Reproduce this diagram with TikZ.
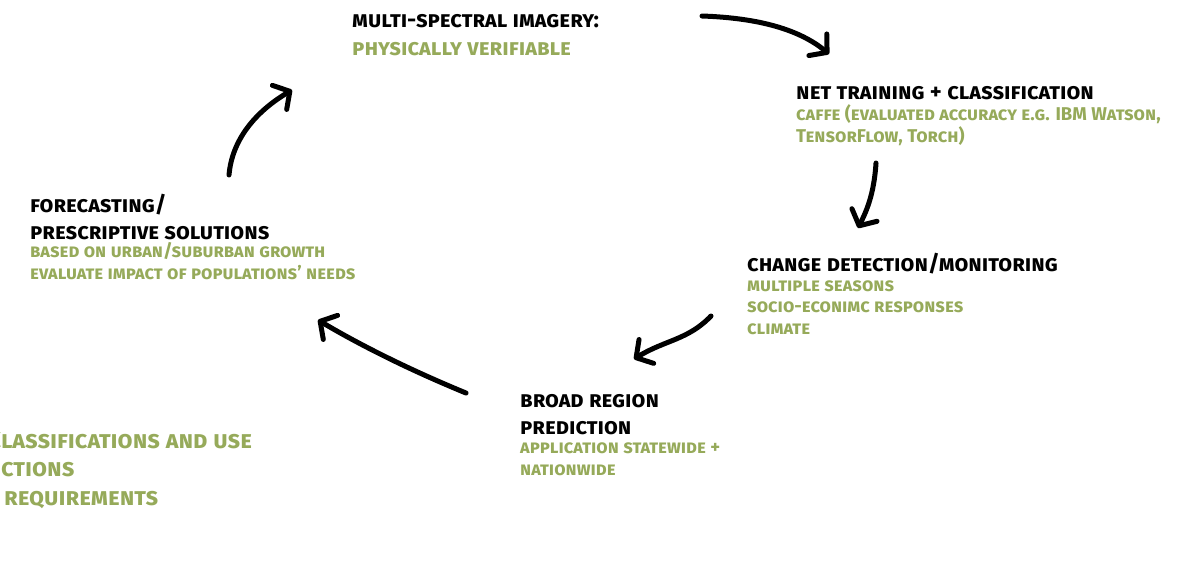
\documentclass[tikz,border=0pt]{standalone}
\usepackage{fontspec}
\setmainfont{Fira Sans}
\usetikzlibrary{arrows.meta}
\definecolor{leaf}{RGB}{150,170,90}
\tikzset{
  head/.style={anchor=base west, inner sep=0pt, align=left,
    font=\bfseries\scshape\fontsize{22.5}{27}\selectfont},
  note/.style={anchor=base west, inner sep=0pt, align=left, text=leaf,
    font=\bfseries\scshape\fontsize{18.5}{21.5}\selectfont},
  bignote/.style={note, font=\bfseries\scshape\fontsize{22.6}{28}\selectfont},
  sidenote/.style={note, font=\bfseries\scshape\fontsize{24.4}{28}\selectfont},
  flow/.style={line width=5pt, line cap=round,
    -{Straight Barb[length=12pt, width=28pt, round]}},
}
\begin{document}
\begin{tikzpicture}[x=1pt, y=-1pt]
   \path[use as bounding box, clip] (0,0) rectangle (1196,566);
   % the five stages (base = last line)
   \node[head] (imagery) at (352,27) {multi-spectral imagery:};
   \node[bignote] (imagerynote) at (352,55) {physically verifiable};
   \node[head] (training) at (796,99) {net training + classification};
   \node[note] (trainingnote) at (796,142) {caffe (evaluated accuracy e.g. IBM Watson,\\TensorFlow, Torch)};
   \node[head] (change) at (747,271) {change detection/monitoring};
   \node[note] (changenote) at (747,334) {multiple seasons\\socio-econimc responses\\climate};
   \node[head] (region) at (520,434) {broad region\\prediction};
   \node[note] (regionnote) at (520,475) {application statewide +\\nationwide};
   \node[head] (forecast) at (30,239) {forecasting/\\prescriptive solutions};
   \node[note] (forecastnote) at (30,279) {based on urban/suburban growth\\evaluate impact of populations' needs};
   % cut off at the left edge
   \node[sidenote] (usecases) at (-13,448) {Classifications and use};
   \node[sidenote] (actions) at (1,476) {ctions};
   \node[sidenote] (needs) at (4,505) {requirements};
   % arrows round the cycle
   \coordinate (a1) at (702,16);  \coordinate (b1) at (829,54);
   \coordinate (a2) at (876,163); \coordinate (b2) at (858,228);
   \coordinate (a3) at (711,316); \coordinate (b3) at (634,359);
   \coordinate (a4) at (466,393); \coordinate (b4) at (318,320);
   \coordinate (a5) at (229,175); \coordinate (b5) at (292,90);
   \draw[flow] (a1) .. controls (760,18) and (800,30) .. (b1);
   \draw[flow] (a2) .. controls (874,195) and (866,212) .. (b2);
   \draw[flow] (a3) .. controls (688,340) and (665,340) .. (b3);
   \draw[flow] (a4) .. controls (410,370) and (360,345) .. (b4);
   \draw[flow] (a5) .. controls (232,140) and (255,112) .. (b5);
\end{tikzpicture}
\end{document}
